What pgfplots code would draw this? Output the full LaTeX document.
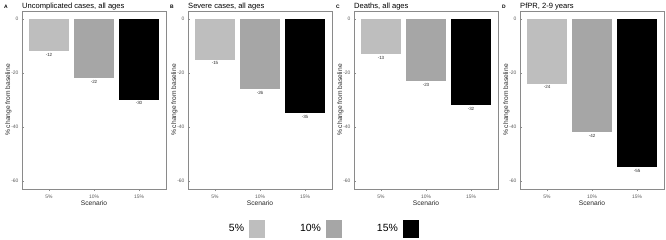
\documentclass[border=0pt]{standalone}
\usepackage{pgfplots}
\pgfplotsset{compat=1.18}
\usepackage{fontspec}
\setmainfont{Liberation Sans}
\definecolor{cLight}{HTML}{BEBEBE}
\definecolor{cMid}{HTML}{A6A6A6}
\definecolor{cBorder}{HTML}{8A8A8A}
\definecolor{cTick}{HTML}{5A5A5A}
\pgfplotsset{
  panel/.style={
    scale only axis, width=144bp, height=178bp,
    anchor=south west,
    xmin=0.4, xmax=3.6, ymin=-63, ymax=3,
    xtick={1,2,3}, xticklabels={5\%,10\%,15\%},
    ytick={-60,-40,-20,0}, yticklabels={-60,-40,-20,0},
    tick pos=left,
    axis line style={cBorder, line width=0.9bp},
    every tick/.style={cBorder, line width=0.6bp},
    major tick length=2.2bp,
    tick label style={font=\fontsize{5}{6}\selectfont, text=cTick},
    xticklabel style={yshift=-0.5bp},
    xlabel={Scenario},
    ylabel={\% change from baseline},
    label style={font=\fontsize{6.7}{8}\selectfont, text=black!85},
    xlabel style={yshift=4.5bp},
    ylabel style={yshift=-7bp},
    ybar, bar width=0.9, bar shift=0pt,
    /pgf/number format/assume math mode=true,
    nodes near coords,
    nodes near coords style={font=\fontsize{4.5}{5}\selectfont, text=black!85, inner sep=1.6bp},
    every axis title shift=0pt,
    title style={at={(0,1)}, anchor=base west, yshift=2.6bp, inner sep=0pt, font=\fontsize{7.6}{9}\selectfont},
    clip=false,
  },
  bL/.style={fill=cLight, draw=none},
  bM/.style={fill=cMid, draw=none},
  bD/.style={fill=black, draw=none},
}
\newcommand{\panelletter}[1]{\node[anchor=base west, inner sep=0pt, font=\fontsize{5}{6}\selectfont\bfseries] at ([xshift=-18bp,yshift=2.8bp]rel axis cs:0,1) {#1};}
\begin{document}
\begin{tikzpicture}
\path[use as bounding box] (0,0) rectangle (666bp,240bp);

\begin{axis}[panel, at={(22bp,51bp)}, title={Uncomplicated cases, all ages}]
\addplot[bL] coordinates {(1,-12)};
\addplot[bM] coordinates {(2,-22)};
\addplot[bD] coordinates {(3,-30)};
\panelletter{A}
\end{axis}

\begin{axis}[panel, at={(188bp,51bp)}, title={Severe cases, all ages},
  legend plot pos=right,
  legend columns=3,
  legend image code/.code={\fill[#1] (0bp,-9bp) rectangle (16bp,9bp);},
  legend style={at={(0.944,-0.2247)}, anchor=center, draw=none, fill=none,
    font=\fontsize{10.5}{12}\selectfont,
    nodes={inner sep=0pt},
    /tikz/every odd column/.append style={column sep=5bp},
    /tikz/every even column/.append style={column sep=35bp}},
]
\addplot[bL] coordinates {(1,-15)};
\addplot[bM] coordinates {(2,-26)};
\addplot[bD] coordinates {(3,-35)};
\legend{5\%,10\%,15\%}
\panelletter{B}
\end{axis}

\begin{axis}[panel, at={(354bp,51bp)}, title={Deaths, all ages}]
\addplot[bL] coordinates {(1,-13)};
\addplot[bM] coordinates {(2,-23)};
\addplot[bD] coordinates {(3,-32)};
\panelletter{C}
\end{axis}

\begin{axis}[panel, at={(520bp,51bp)}, title={PfPR, 2-9 years}]
\addplot[bL] coordinates {(1,-24)};
\addplot[bM] coordinates {(2,-42)};
\addplot[bD] coordinates {(3,-55)};
\panelletter{D}
\end{axis}
\end{tikzpicture}
\end{document}
